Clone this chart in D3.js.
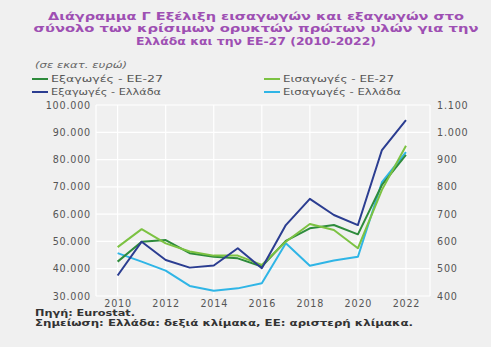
<!DOCTYPE html>
<html><head><meta charset="utf-8">
<script src="https://cdn.jsdelivr.net/npm/d3@7"></script>
<style>
html,body{margin:0;padding:0;background:#f0f0f0;}
svg{display:block;font-family:"DejaVu Sans",Verdana,sans-serif;}
</style></head>
<body><svg id="c" width="491" height="347"></svg>
<script>
const years = [2010,2011,2012,2013,2014,2015,2016,2017,2018,2019,2020,2021,2022];
const exportsEU = [42600,49900,50500,45700,44400,43800,40800,50200,54800,56000,52600,70700,81700];
const importsEU = [47900,54500,49300,46300,44800,44800,41400,49900,56400,54200,47500,68900,85100];
const exportsGR = [475,599,532,504,512,575,502,660,756,697,660,935,1045];
const importsGR = [557,526,493,437,419,428,447,593,511,530,544,817,927];
const leftTicks = [30000,40000,50000,60000,70000,80000,90000,100000];
const rightTicks = [400,500,600,700,800,900,1000,1100];
const xTicks = [2010,2012,2014,2016,2018,2020,2022];
const titleLines = ["Διάγραμμα Γ Εξέλιξη εισαγωγών και εξαγωγών στο","σύνολο των κρίσιμων ορυκτών πρώτων υλών για την","Ελλάδα και την ΕΕ-27 (2010-2022)"];
const legendNames = ["Εξαγωγές - ΕΕ-27","Εισαγωγές - ΕΕ-27","Εξαγωγές - Ελλάδα","Εισαγωγές - Ελλάδα"];
const colors = {exEU:"#2e8b3c", imEU:"#7cc242", exGR:"#2b3d91", imGR:"#2fb5e6"};

const svg = d3.select("#c");
const L = 96, R = 430, T = 105, B = 296;
const x = d3.scaleLinear().domain([2009.1, 2023]).range([L, R]);
const yL = d3.scaleLinear().domain([30000, 100000]).range([B, T]);
const yR = d3.scaleLinear().domain([400, 1100]).range([B, T]);
const fmtDot = v => d3.format(",")(v).replace(/,/g, ".");

// title
const titleW = [416, 445, 240];
svg.append("g").selectAll("text").data(titleLines).join("text")
  .attr("x", 256).attr("y", (d,i)=>20 + i*12.4)
  .attr("text-anchor","middle").attr("font-size", 10.6).attr("font-weight","bold")
  .attr("textLength",(d,i)=>titleW[i]).attr("lengthAdjust","spacingAndGlyphs")
  .attr("fill","#9e4fb3").text(d=>d);

svg.append("text").attr("x",35).attr("y",68).attr("font-size",8).attr("font-style","italic")
  .attr("textLength",92).attr("lengthAdjust","spacingAndGlyphs")
  .attr("fill","#666").text("(σε εκατ. ευρώ)");

// legend
const leg = [
  {n:legendNames[0], c:colors.exEU, x:32, y:79, w:112},
  {n:legendNames[1], c:colors.imEU, x:264, y:79, w:111},
  {n:legendNames[2], c:colors.exGR, x:32, y:92, w:110},
  {n:legendNames[3], c:colors.imGR, x:264, y:92, w:118}
];
const lg = svg.append("g").selectAll("g").data(leg).join("g");
lg.append("line").attr("x1",d=>d.x).attr("x2",d=>d.x+16).attr("y1",d=>d.y).attr("y2",d=>d.y)
  .attr("stroke",d=>d.c).attr("stroke-width",2);
lg.append("text").attr("x",d=>d.x+19).attr("y",d=>d.y+3.3).attr("font-size",9.2).attr("fill","#555")
  .attr("textLength",d=>d.w).attr("lengthAdjust","spacingAndGlyphs").text(d=>d.n);

// grid
svg.append("g").selectAll("line").data(leftTicks).join("line")
  .attr("x1",L).attr("x2",R).attr("y1",d=>yL(d)).attr("y2",d=>yL(d))
  .attr("stroke","#fff").attr("stroke-width",1.2);
svg.append("g").selectAll("line").data(xTicks).join("line")
  .attr("x1",d=>x(d)).attr("x2",d=>x(d)).attr("y1",T).attr("y2",B)
  .attr("stroke","#fff").attr("stroke-width",1.2);
svg.append("g").selectAll("line").data([L,R]).join("line")
  .attr("x1",d=>d).attr("x2",d=>d).attr("y1",T).attr("y2",B)
  .attr("stroke","#fff").attr("stroke-width",1.2);

// axes
const axL = d3.axisLeft(yL).tickValues(leftTicks).tickSize(0).tickPadding(5).tickFormat(fmtDot);
const axR = d3.axisRight(yR).tickValues(rightTicks).tickSize(0).tickPadding(7).tickFormat(fmtDot);
const axB = d3.axisBottom(x).tickValues(xTicks).tickSize(0).tickPadding(4).tickFormat(d3.format("d"));
[ [axL, `translate(${L},0)`], [axR, `translate(${R},0)`], [axB, `translate(0,${B})`] ].forEach(([a,t])=>{
  const g = svg.append("g").attr("transform",t).call(a);
  g.select(".domain").remove();
  g.selectAll("text").attr("font-size",9.6).attr("fill","#555")
    .attr("letter-spacing","0.8px").attr("font-family","DejaVu Sans, Verdana, sans-serif");
});

// lines
const series = [
  {v:importsGR, y:yR, c:colors.imGR},
  {v:exportsEU, y:yL, c:colors.exEU},
  {v:importsEU, y:yL, c:colors.imEU},
  {v:exportsGR, y:yR, c:colors.exGR}
];
series.forEach(s=>{
  const line = d3.line().x((d,i)=>x(years[i])).y(d=>s.y(d));
  svg.append("path").datum(s.v).attr("d",line).attr("fill","none")
    .attr("stroke",s.c).attr("stroke-width",2).attr("stroke-linejoin","round");
});

// footer
svg.append("text").attr("x",35).attr("y",316).attr("font-size",8.3).attr("font-weight","bold").attr("fill","#333")
  .attr("textLength",100).attr("lengthAdjust","spacingAndGlyphs").text("Πηγή: Eurostat.");
svg.append("text").attr("x",35).attr("y",326).attr("font-size",8.3).attr("font-weight","bold").attr("fill","#333")
  .attr("textLength",378).attr("lengthAdjust","spacingAndGlyphs").text("Σημείωση: Ελλάδα: δεξιά κλίμακα, ΕΕ: αριστερή κλίμακα.");
</script></body></html>
